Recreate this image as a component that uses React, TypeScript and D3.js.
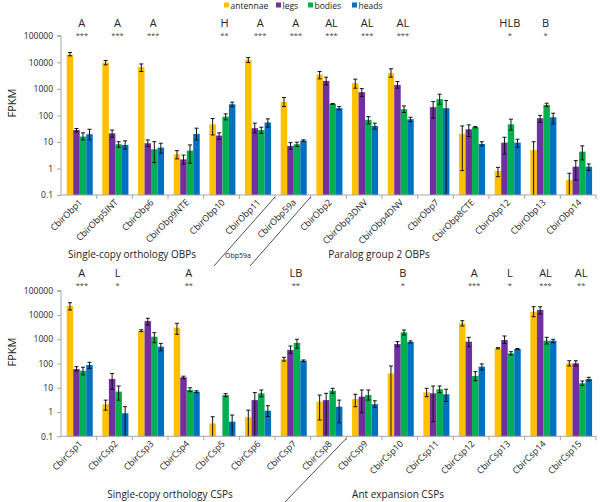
import React, { useEffect, useRef } from 'react';
import * as d3 from 'd3';

// ---- data ----
const seriesNames = ['antennae', 'legs', 'bodies', 'heads'];
const seriesColors = ['#FFC000', '#7030A0', '#00B050', '#0070C0'];

const yTicks = [0.1, 1, 10, 100, 1000, 10000, 100000];
const yTickLabels = ['0.1', '1', '10', '100', '1000', '10000', '100000'];

const obpCategories = ['CbirObp1', 'CbirObp5INT', 'CbirObp6', 'CbirObp9NTE', 'CbirObp10', 'CbirObp11', 'CbirObp59a', 'CbirObp2', 'CbirObp3DNV', 'CbirObp4DNV', 'CbirObp7', 'CbirObp8CTE', 'CbirObp12', 'CbirObp13', 'CbirObp14'];
const obpAntennae = [19200, 9800, 6600, 3.4, 46, 12400, 320, 3400, 1640, 3900, null, 20, 0.8, 5, 0.37];
const obpAntennaeErr = [[17600, 23400], [8050, 11700], [4500, 8700], [2.3, 4.7], [18.4, 76], [9800, 15100], [215, 470], [2380, 4500], [1060, 2320], [2750, 5700], null, [0.83, 40], [0.49, 1.1], [0.1, 10.2], [0.1, 0.66]];
const obpLegs = [28, 21, 8.9, 2.2, 17.3, 33, 7.1, 2000, 750, 1410, 204, 30, 9.4, 78, 1.17];
const obpLegsErr = [[24, 32], [15, 28], [6.7, 11.9], [1.48, 3.2], [12.6, 22], [22, 51], [5.3, 9.4], [1410, 2750], [512, 1025], [1060, 1880], [78, 331], [15.9, 44], [3.5, 15], [55, 100], [0.37, 1.97]];
const obpBodies = [15.9, 8.2, 5.3, 4.7, 90, 28, 8.2, 272, 68, 171, 408, 36, 46, 249, 4.3];
const obpBodiesErr = [[11.9, 22], [6.3, 10.2], [1.66, 10.2], [1.57, 7.7], [68, 114], [21, 36], [6.8, 9.8], [262, 282], [48, 90], [128, 228], [263, 630], [34, 38], [28, 72], [215, 288], [2.1, 7.1]];
const obpHeads = [19.5, 7.7, 6.1, 20, 263, 54, 11.2, 187, 40, 72, 187, 8.4, 9.4, 85, 1.17];
const obpHeadsErr = [[12, 30], [5.3, 11], [3.75, 8.9], [12, 33], [215, 316], [36, 74], [10.5, 12], [162, 215], [30, 51], [58, 85], [0.1, 363], [7.1, 10.2], [6.3, 12.6], [48, 121], [0.83, 1.48]];
const obpLetters = ['A', 'A', 'A', '', 'H', 'A', 'A', 'AL', 'AL', 'AL', '', '', 'HLB', 'B', ''];
const obpStars = ['***', '***', '***', '', '**', '***', '***', '***', '***', '***', '', '', '*', '*', ''];

const cspCategories = ['CbirCsp1', 'CbirCsp2', 'CbirCsp3', 'CbirCsp4', 'CbirCsp5', 'CbirCsp6', 'CbirCsp7', 'CbirCsp8', 'CbirCsp9', 'CbirCsp10', 'CbirCsp11', 'CbirCsp12', 'CbirCsp13', 'CbirCsp14', 'CbirCsp15'];
const cspAntennae = [23400, 2.1, 2240, 2990, 0.34, 0.61, 149, 2.7, 3.4, 39, 6.5, 4530, 423, 13600, 102];
const cspAntennaeErr = [[16000, 32000], [1.2, 3.1], [2050, 2450], [1590, 4530], [0.1, 0.64], [0.1, 1.2], [126, 180], [0.47, 5], [1.66, 5.4], [0.1, 79], [4.3, 9.5], [3500, 5800], [400, 450], [8470, 21900], [79, 130]];
const cspLegs = [59, 23, 5600, 27, null, 3.1, 360, 3.1, 4.3, 635, 5.9, 795, 930, 16000, 102];
const cspLegsErr = [[49, 74], [8.6, 39], [3850, 7300], [24, 30], null, [0.1, 6.3], [263, 525], [0.1, 5.9], [0.94, 8.1], [492, 795], [0.4, 11.8], [490, 1200], [675, 1360], [11000, 21900], [79, 130]];
const cspBodies = [50, 6.9, 1270, 8.1, 5.0, 5.9, 700, 7.6, 5.0, 1930, 8.7, 30.5, 263, 870, 15.3];
const cspBodiesErr = [[34, 70], [3.1, 11.8], [720, 1860], [6.9, 10], [4.3, 5.7], [4.3, 8.1], [423, 993], [5.9, 9.5], [3.1, 8.1], [1490, 2400], [6.3, 11.8], [19.5, 46], [224, 306], [635, 1200], [12.6, 19]];
const cspHeads = [87, 0.89, 492, 6.9, 0.4, 1.13, 130, 1.66, 2.1, 770, 5.4, 74, 395, 870, 23];
const cspHeadsErr = [[63, 112], [0.1, 1.66], [336, 675], [6.3, 7.5], [0.1, 0.75], [0.65, 1.82], [120, 140], [0.36, 3.1], [1.57, 2.9], [700, 850], [2.7, 8.7], [54, 96], [375, 415], [720, 993], [19.5, 27]];
const cspLetters = ['A', 'L', '', 'A', '', '', 'LB', '', '', 'B', '', 'A', 'L', 'AL', 'AL'];
const cspStars = ['***', '*', '', '**', '', '', '**', '', '', '*', '', '***', '*', '***', '**'];

const FONT = '"Open Sans", "DejaVu Sans", sans-serif';

interface PanelCfg {
  top: number;
  bottom: number;
  categories: string[];
  values: (number | null)[][];
  errors: (number[] | null)[][];
  letters: string[];
  stars: string[];
  letterY: number;
  groupLabels: { text: string; x: number; y: number }[];
  slashes: number[][];
  fpkmY: number;
}

const panels: PanelCfg[] = [
  {
    top: 35.8, bottom: 195,
    categories: obpCategories,
    values: [obpAntennae, obpLegs, obpBodies, obpHeads],
    errors: [obpAntennaeErr, obpLegsErr, obpBodiesErr, obpHeadsErr],
    letters: obpLetters, stars: obpStars, letterY: 27,
    groupLabels: [
      { text: 'Single-copy orthology OBPs', x: 132, y: 258 },
      { text: 'Paralog group 2 OBPs', x: 379, y: 258 }
    ],
    slashes: [[6, 214, 266], [7, 250, 266]],
    fpkmY: 103
  },
  {
    top: 290.7, bottom: 436.3,
    categories: cspCategories,
    values: [cspAntennae, cspLegs, cspBodies, cspHeads],
    errors: [cspAntennaeErr, cspLegsErr, cspBodiesErr, cspHeadsErr],
    letters: cspLetters, stars: cspStars, letterY: 277,
    groupLabels: [
      { text: 'Single-copy orthology CSPs', x: 170, y: 498 },
      { text: 'Ant expansion CSPs', x: 398, y: 498 }
    ],
    slashes: [[8, 285, 502]],
    fpkmY: 352
  }
];

const App = () => {
  const svgRef = useRef(null);

  useEffect(() => {
    const width = 600;
    const height = 502;
    const left = 61;
    const right = 596;

    d3.select(svgRef.current).selectAll('*').remove();
    const svg = d3.select(svgRef.current)
      .attr('width', width)
      .attr('height', height)
      .style('font-family', FONT);

    // legend
    const legendX = [224, 276, 308, 352];
    seriesNames.forEach((name, i) => {
      const g = svg.append('g').attr('transform', `translate(${legendX[i]},5)`);
      g.append('rect').attr('x', 0).attr('y', -2.5).attr('width', 5).attr('height', 5).attr('fill', seriesColors[i]);
      g.append('text').attr('x', 6.5).attr('y', 3.5).style('font-size', '8.5px').attr('fill', '#222').text(name);
    });

    panels.forEach(p => {
      const y = d3.scaleLog().domain([0.1, 100000]).range([p.bottom, p.top]);
      const x = d3.scaleBand().domain(p.categories).range([left, right]).paddingInner(0).paddingOuter(0);
      const bw = x.bandwidth();
      const xs = d3.scaleBand().domain(seriesNames).range([bw * 0.16, bw * 0.89]);

      // y axis
      const yAxis = svg.append('g')
        .attr('transform', `translate(${left},0)`)
        .call(d3.axisLeft(y).tickValues(yTicks).tickSize(4).tickPadding(4)
          .tickFormat((d, i) => yTickLabels[i]));
      yAxis.select('.domain').attr('stroke', '#a6a6a6').attr('d', `M-4,${p.top}H0V${p.bottom}`);
      yAxis.selectAll('.tick line').attr('stroke', '#a6a6a6');
      yAxis.selectAll('.tick text').style('font-size', '8.5px').style('font-family', FONT).attr('fill', '#222');

      svg.append('text')
        .attr('transform', `translate(16,${p.fpkmY}) rotate(-90)`)
        .attr('text-anchor', 'middle')
        .style('font-size', '11px')
        .attr('fill', '#222')
        .text('FPKM');

      // bars + error bars
      p.values.forEach((vals, si) => {
        vals.forEach((v, ci) => {
          const bx = x(p.categories[ci])! + xs(seriesNames[si])!;
          if (v !== null) {
            svg.append('rect')
              .attr('x', bx)
              .attr('y', y(v))
              .attr('width', xs.bandwidth())
              .attr('height', p.bottom - y(v))
              .attr('fill', seriesColors[si]);
          }
          const e = p.errors[si][ci];
          if (e) {
            const cx = bx + xs.bandwidth() / 2;
            svg.append('line')
              .attr('x1', cx).attr('x2', cx)
              .attr('y1', y(e[0])).attr('y2', y(e[1]))
              .attr('stroke', '#111').attr('stroke-width', 1);
            [e[0], e[1]].forEach(ev => {
              if (ev <= 0.1) return;
              svg.append('line')
                .attr('x1', cx - 2).attr('x2', cx + 2)
                .attr('y1', y(ev)).attr('y2', y(ev))
                .attr('stroke', '#111').attr('stroke-width', 1);
            });
          }
        });
      });

      // x axis
      svg.append('line')
        .attr('x1', left).attr('x2', right)
        .attr('y1', p.bottom).attr('y2', p.bottom)
        .attr('stroke', '#a6a6a6');
      p.categories.forEach((c, i) => {
        const bx = x(c)! + bw;
        svg.append('line')
          .attr('x1', bx).attr('x2', bx)
          .attr('y1', p.bottom).attr('y2', p.bottom + 4)
          .attr('stroke', '#a6a6a6');
        const cx = x(c)! + bw / 2 + 4;
        svg.append('text')
          .attr('transform', `translate(${cx},${p.bottom + 8}) rotate(-45)`)
          .attr('text-anchor', 'end')
          .style('font-size', '9px')
          .attr('fill', '#222')
          .text(c);

        // significance
        if (p.letters[i]) {
          const lx = x(c)! + bw / 2 + 3;
          svg.append('text')
            .attr('x', lx).attr('y', p.letterY)
            .attr('text-anchor', 'middle')
            .style('font-size', '11px')
            .attr('fill', '#222')
            .text(p.letters[i]);
          svg.append('text')
            .attr('x', lx).attr('y', p.letterY + 11)
            .attr('text-anchor', 'middle')
            .style('font-size', '7.5px')
            .attr('fill', '#444')
            .text(p.stars[i]);
        }
      });

      // group labels and dividers
      p.groupLabels.forEach(gl => {
        svg.append('text')
          .attr('x', gl.x).attr('y', gl.y)
          .attr('text-anchor', 'middle')
          .style('font-size', '10px')
          .attr('fill', '#222')
          .text(gl.text);
      });
      p.slashes.forEach(([idx, ex, ey]) => {
        const sx = x(p.categories[idx])!;
        svg.append('line')
          .attr('x1', sx).attr('y1', p.bottom + 2)
          .attr('x2', ex).attr('y2', ey)
          .attr('stroke', '#222').attr('stroke-width', 0.8);
      });
    });

    svg.append('text')
      .attr('x', 238).attr('y', 258)
      .attr('text-anchor', 'middle')
      .style('font-size', '7px')
      .attr('fill', '#222')
      .text('Obp59a');
  }, []);

  return (
    <div style={{ position: 'absolute', left: 0, top: 0 }}>
      <svg ref={svgRef}></svg>
    </div>
  );
};

export default App;
